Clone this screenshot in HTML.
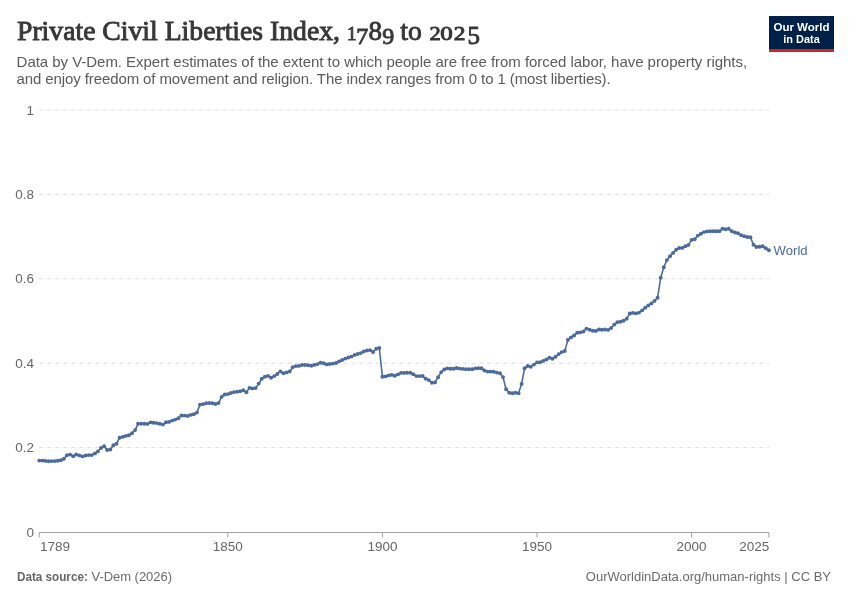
<!DOCTYPE html>
<html><head><meta charset="utf-8">
<style>
html,body{margin:0;padding:0;background:#fff;}
body{width:850px;height:600px;overflow:hidden;position:relative;}
svg{position:absolute;left:0;top:0;will-change:transform;}
text{font-family:"Liberation Sans",sans-serif;}
.ttl text{font-family:"Liberation Serif",serif;}
</style></head><body>
<svg width="850" height="600" viewBox="0 0 850 600">
<rect width="850" height="600" fill="#fff"/>
<g class="ttl" fill="#373737" stroke="#373737" stroke-width="0.9">
<text x="17" y="40.1" font-size="27" textLength="323" lengthAdjust="spacingAndGlyphs">Private Civil Liberties Index,</text>
<text x="351.7" y="40.1" font-size="19" text-anchor="middle">1</text>
<text x="362.3" y="43.6" font-size="24" text-anchor="middle">7</text>
<text x="375.3" y="40.1" font-size="27" text-anchor="middle">8</text>
<text x="388.2" y="43.6" font-size="24" text-anchor="middle">9</text>
<text x="400.3" y="40.1" font-size="27" textLength="21.5" lengthAdjust="spacingAndGlyphs">to</text>
<text transform="translate(435,40.1) scale(1.15,1)" font-size="19.5" text-anchor="middle">2</text>
<text transform="translate(446.5,40.1) scale(1.28,1)" font-size="19.5" text-anchor="middle">0</text>
<text transform="translate(459.6,40.1) scale(1.2,1)" font-size="19.5" text-anchor="middle">2</text>
<text x="473.8" y="43.6" font-size="25" text-anchor="middle">5</text>
</g>
<text x="16.6" y="66.6" font-size="15" fill="#5b5b5b" textLength="730.5" lengthAdjust="spacing">Data by V-Dem. Expert estimates of the extent to which people are free from forced labor, have property rights,</text>
<text x="16.6" y="83.9" font-size="15" fill="#5b5b5b" textLength="594" lengthAdjust="spacing">and enjoy freedom of movement and religion. The index ranges from 0 to 1 (most liberties).</text>
<rect x="769" y="16" width="65" height="36" fill="#002147"/>
<rect x="769" y="49" width="65" height="3" fill="#ce261e"/>
<text x="801.5" y="30.7" font-size="11.5" font-weight="bold" fill="#fff" text-anchor="middle">Our World</text>
<text x="783.3" y="42.8" font-size="11.5" font-weight="bold" fill="#fff" textLength="36.5" lengthAdjust="spacingAndGlyphs">in Data</text>
<g stroke="#dddddd" stroke-width="1" stroke-dasharray="4,4"><line x1="39.2" y1="110.0" x2="769" y2="110.0"/><line x1="39.2" y1="194.4" x2="769" y2="194.4"/><line x1="39.2" y1="278.8" x2="769" y2="278.8"/><line x1="39.2" y1="363.2" x2="769" y2="363.2"/><line x1="39.2" y1="447.6" x2="769" y2="447.6"/></g>
<g font-size="13.5" fill="#666" text-anchor="end"><text x="34" y="114.6">1</text><text x="34" y="199.0">0.8</text><text x="34" y="283.4">0.6</text><text x="34" y="367.8">0.4</text><text x="34" y="452.2">0.2</text><text x="34" y="536.7">0</text></g>
<line x1="39.2" y1="532.5" x2="769" y2="532.5" stroke="#a1a1a1" stroke-width="1"/>
<g stroke="#a1a1a1" stroke-width="1"><line x1="39.2" y1="532.5" x2="39.2" y2="537.5"/><line x1="227.8" y1="532.5" x2="227.8" y2="537.5"/><line x1="382.4" y1="532.5" x2="382.4" y2="537.5"/><line x1="537.0" y1="532.5" x2="537.0" y2="537.5"/><line x1="691.6" y1="532.5" x2="691.6" y2="537.5"/><line x1="768.9" y1="532.5" x2="768.9" y2="537.5"/></g>
<g font-size="13.5" fill="#666"><text x="40.1" y="550.6" text-anchor="start">1789</text><text x="227.8" y="550.6" text-anchor="middle">1850</text><text x="382.4" y="550.6" text-anchor="middle">1900</text><text x="537.0" y="550.6" text-anchor="middle">1950</text><text x="691.6" y="550.6" text-anchor="middle">2000</text><text x="769.2" y="550.6" text-anchor="end">2025</text></g>
<path d="M39.2,460.6 L42.3,460.6 L45.4,460.9 L48.5,461.2 L51.6,461.1 L54.7,461.1 L57.8,460.8 L60.8,460.3 L63.9,458.7 L67.0,455.2 L70.1,454.6 L73.2,456.2 L76.3,454.5 L79.4,455.4 L82.5,456.4 L85.6,455.5 L88.7,455.1 L91.8,455.1 L94.9,453.4 L97.9,451.4 L101.0,448.0 L104.1,446.2 L107.2,450.0 L110.3,449.5 L113.4,445.2 L116.5,443.8 L119.6,437.7 L122.7,436.9 L125.8,435.9 L128.9,435.2 L132.0,433.2 L135.1,430.1 L138.1,423.8 L141.2,423.8 L144.3,423.8 L147.4,423.9 L150.5,422.4 L153.6,422.8 L156.7,423.1 L159.8,423.8 L162.9,424.6 L166.0,422.3 L169.1,421.9 L172.2,420.6 L175.2,419.6 L178.3,418.3 L181.4,415.5 L184.5,415.6 L187.6,416.0 L190.7,414.9 L193.8,414.2 L196.9,412.6 L200.0,404.6 L203.1,404.1 L206.2,403.2 L209.3,403.0 L212.4,403.2 L215.4,404.0 L218.5,403.1 L221.6,396.9 L224.7,394.5 L227.8,394.1 L230.9,393.0 L234.0,392.1 L237.1,391.8 L240.2,391.3 L243.3,390.2 L246.4,392.3 L249.5,387.9 L252.5,388.4 L255.6,388.1 L258.7,383.6 L261.8,378.8 L264.9,376.7 L268.0,375.9 L271.1,377.8 L274.2,376.1 L277.3,374.0 L280.4,371.4 L283.5,373.2 L286.6,372.4 L289.7,371.5 L292.7,367.3 L295.8,366.1 L298.9,365.9 L302.0,365.0 L305.1,365.0 L308.2,365.3 L311.3,365.7 L314.4,364.9 L317.5,364.1 L320.6,362.8 L323.7,363.3 L326.8,364.4 L329.8,364.0 L332.9,363.6 L336.0,363.0 L339.1,361.4 L342.2,360.0 L345.3,358.6 L348.4,357.5 L351.5,356.6 L354.6,354.9 L357.7,354.0 L360.8,353.1 L363.9,351.5 L367.0,350.5 L370.0,350.1 L373.1,352.0 L376.2,348.7 L379.3,348.0 L382.4,376.7 L385.5,376.4 L388.6,375.4 L391.7,374.9 L394.8,375.7 L397.9,374.4 L401.0,372.9 L404.1,372.9 L407.1,372.8 L410.2,372.7 L413.3,374.2 L416.4,376.1 L419.5,376.1 L422.6,376.0 L425.7,378.8 L428.8,380.1 L431.9,382.7 L435.0,382.4 L438.1,377.2 L441.2,372.1 L444.3,369.5 L447.3,368.4 L450.4,368.8 L453.5,368.8 L456.6,368.0 L459.7,368.6 L462.8,368.9 L465.9,369.2 L469.0,369.2 L472.1,369.2 L475.2,368.4 L478.3,368.2 L481.4,368.2 L484.4,370.5 L487.5,371.6 L490.6,371.6 L493.7,371.8 L496.8,372.6 L499.9,373.2 L503.0,377.1 L506.1,389.3 L509.2,392.8 L512.3,393.2 L515.4,392.7 L518.5,393.2 L521.6,383.9 L524.6,368.2 L527.7,366.0 L530.8,366.7 L533.9,364.6 L537.0,362.4 L540.1,362.3 L543.2,360.9 L546.3,359.5 L549.4,357.7 L552.5,358.7 L555.6,356.7 L558.7,354.1 L561.7,352.1 L564.8,351.0 L567.9,339.9 L571.0,337.4 L574.1,335.5 L577.2,332.7 L580.3,332.4 L583.4,331.5 L586.5,328.6 L589.6,329.7 L592.7,330.7 L595.8,331.0 L598.9,329.5 L601.9,329.8 L605.0,329.5 L608.1,329.9 L611.2,328.0 L614.3,324.6 L617.4,322.1 L620.5,321.8 L623.6,320.7 L626.7,318.7 L629.8,313.5 L632.9,312.9 L636.0,313.4 L639.0,312.6 L642.1,310.4 L645.2,307.8 L648.3,305.5 L651.4,303.4 L654.5,300.9 L657.6,297.7 L660.7,277.7 L663.8,267.3 L666.9,260.1 L670.0,256.3 L673.1,252.9 L676.2,249.8 L679.2,248.0 L682.3,247.9 L685.4,246.2 L688.5,244.9 L691.6,239.9 L694.7,239.2 L697.8,235.6 L700.9,233.8 L704.0,232.1 L707.1,231.4 L710.2,231.2 L713.3,231.2 L716.3,231.2 L719.4,231.2 L722.5,228.8 L725.6,229.2 L728.7,228.8 L731.8,231.3 L734.9,232.5 L738.0,233.2 L741.1,235.3 L744.2,236.3 L747.3,237.0 L750.4,237.2 L753.5,244.8 L756.5,247.0 L759.6,246.7 L762.7,246.3 L765.8,248.3 L768.9,250.3" fill="none" stroke="#4c6a9c" stroke-width="1.6" stroke-linejoin="round"/>
<g fill="#4c6a9c"><circle cx="39.2" cy="460.6" r="1.95"/><circle cx="42.3" cy="460.6" r="1.95"/><circle cx="45.4" cy="460.9" r="1.95"/><circle cx="48.5" cy="461.2" r="1.95"/><circle cx="51.6" cy="461.1" r="1.95"/><circle cx="54.7" cy="461.1" r="1.95"/><circle cx="57.8" cy="460.8" r="1.95"/><circle cx="60.8" cy="460.3" r="1.95"/><circle cx="63.9" cy="458.7" r="1.95"/><circle cx="67.0" cy="455.2" r="1.95"/><circle cx="70.1" cy="454.6" r="1.95"/><circle cx="73.2" cy="456.2" r="1.95"/><circle cx="76.3" cy="454.5" r="1.95"/><circle cx="79.4" cy="455.4" r="1.95"/><circle cx="82.5" cy="456.4" r="1.95"/><circle cx="85.6" cy="455.5" r="1.95"/><circle cx="88.7" cy="455.1" r="1.95"/><circle cx="91.8" cy="455.1" r="1.95"/><circle cx="94.9" cy="453.4" r="1.95"/><circle cx="97.9" cy="451.4" r="1.95"/><circle cx="101.0" cy="448.0" r="1.95"/><circle cx="104.1" cy="446.2" r="1.95"/><circle cx="107.2" cy="450.0" r="1.95"/><circle cx="110.3" cy="449.5" r="1.95"/><circle cx="113.4" cy="445.2" r="1.95"/><circle cx="116.5" cy="443.8" r="1.95"/><circle cx="119.6" cy="437.7" r="1.95"/><circle cx="122.7" cy="436.9" r="1.95"/><circle cx="125.8" cy="435.9" r="1.95"/><circle cx="128.9" cy="435.2" r="1.95"/><circle cx="132.0" cy="433.2" r="1.95"/><circle cx="135.1" cy="430.1" r="1.95"/><circle cx="138.1" cy="423.8" r="1.95"/><circle cx="141.2" cy="423.8" r="1.95"/><circle cx="144.3" cy="423.8" r="1.95"/><circle cx="147.4" cy="423.9" r="1.95"/><circle cx="150.5" cy="422.4" r="1.95"/><circle cx="153.6" cy="422.8" r="1.95"/><circle cx="156.7" cy="423.1" r="1.95"/><circle cx="159.8" cy="423.8" r="1.95"/><circle cx="162.9" cy="424.6" r="1.95"/><circle cx="166.0" cy="422.3" r="1.95"/><circle cx="169.1" cy="421.9" r="1.95"/><circle cx="172.2" cy="420.6" r="1.95"/><circle cx="175.2" cy="419.6" r="1.95"/><circle cx="178.3" cy="418.3" r="1.95"/><circle cx="181.4" cy="415.5" r="1.95"/><circle cx="184.5" cy="415.6" r="1.95"/><circle cx="187.6" cy="416.0" r="1.95"/><circle cx="190.7" cy="414.9" r="1.95"/><circle cx="193.8" cy="414.2" r="1.95"/><circle cx="196.9" cy="412.6" r="1.95"/><circle cx="200.0" cy="404.6" r="1.95"/><circle cx="203.1" cy="404.1" r="1.95"/><circle cx="206.2" cy="403.2" r="1.95"/><circle cx="209.3" cy="403.0" r="1.95"/><circle cx="212.4" cy="403.2" r="1.95"/><circle cx="215.4" cy="404.0" r="1.95"/><circle cx="218.5" cy="403.1" r="1.95"/><circle cx="221.6" cy="396.9" r="1.95"/><circle cx="224.7" cy="394.5" r="1.95"/><circle cx="227.8" cy="394.1" r="1.95"/><circle cx="230.9" cy="393.0" r="1.95"/><circle cx="234.0" cy="392.1" r="1.95"/><circle cx="237.1" cy="391.8" r="1.95"/><circle cx="240.2" cy="391.3" r="1.95"/><circle cx="243.3" cy="390.2" r="1.95"/><circle cx="246.4" cy="392.3" r="1.95"/><circle cx="249.5" cy="387.9" r="1.95"/><circle cx="252.5" cy="388.4" r="1.95"/><circle cx="255.6" cy="388.1" r="1.95"/><circle cx="258.7" cy="383.6" r="1.95"/><circle cx="261.8" cy="378.8" r="1.95"/><circle cx="264.9" cy="376.7" r="1.95"/><circle cx="268.0" cy="375.9" r="1.95"/><circle cx="271.1" cy="377.8" r="1.95"/><circle cx="274.2" cy="376.1" r="1.95"/><circle cx="277.3" cy="374.0" r="1.95"/><circle cx="280.4" cy="371.4" r="1.95"/><circle cx="283.5" cy="373.2" r="1.95"/><circle cx="286.6" cy="372.4" r="1.95"/><circle cx="289.7" cy="371.5" r="1.95"/><circle cx="292.7" cy="367.3" r="1.95"/><circle cx="295.8" cy="366.1" r="1.95"/><circle cx="298.9" cy="365.9" r="1.95"/><circle cx="302.0" cy="365.0" r="1.95"/><circle cx="305.1" cy="365.0" r="1.95"/><circle cx="308.2" cy="365.3" r="1.95"/><circle cx="311.3" cy="365.7" r="1.95"/><circle cx="314.4" cy="364.9" r="1.95"/><circle cx="317.5" cy="364.1" r="1.95"/><circle cx="320.6" cy="362.8" r="1.95"/><circle cx="323.7" cy="363.3" r="1.95"/><circle cx="326.8" cy="364.4" r="1.95"/><circle cx="329.8" cy="364.0" r="1.95"/><circle cx="332.9" cy="363.6" r="1.95"/><circle cx="336.0" cy="363.0" r="1.95"/><circle cx="339.1" cy="361.4" r="1.95"/><circle cx="342.2" cy="360.0" r="1.95"/><circle cx="345.3" cy="358.6" r="1.95"/><circle cx="348.4" cy="357.5" r="1.95"/><circle cx="351.5" cy="356.6" r="1.95"/><circle cx="354.6" cy="354.9" r="1.95"/><circle cx="357.7" cy="354.0" r="1.95"/><circle cx="360.8" cy="353.1" r="1.95"/><circle cx="363.9" cy="351.5" r="1.95"/><circle cx="367.0" cy="350.5" r="1.95"/><circle cx="370.0" cy="350.1" r="1.95"/><circle cx="373.1" cy="352.0" r="1.95"/><circle cx="376.2" cy="348.7" r="1.95"/><circle cx="379.3" cy="348.0" r="1.95"/><circle cx="382.4" cy="376.7" r="1.95"/><circle cx="385.5" cy="376.4" r="1.95"/><circle cx="388.6" cy="375.4" r="1.95"/><circle cx="391.7" cy="374.9" r="1.95"/><circle cx="394.8" cy="375.7" r="1.95"/><circle cx="397.9" cy="374.4" r="1.95"/><circle cx="401.0" cy="372.9" r="1.95"/><circle cx="404.1" cy="372.9" r="1.95"/><circle cx="407.1" cy="372.8" r="1.95"/><circle cx="410.2" cy="372.7" r="1.95"/><circle cx="413.3" cy="374.2" r="1.95"/><circle cx="416.4" cy="376.1" r="1.95"/><circle cx="419.5" cy="376.1" r="1.95"/><circle cx="422.6" cy="376.0" r="1.95"/><circle cx="425.7" cy="378.8" r="1.95"/><circle cx="428.8" cy="380.1" r="1.95"/><circle cx="431.9" cy="382.7" r="1.95"/><circle cx="435.0" cy="382.4" r="1.95"/><circle cx="438.1" cy="377.2" r="1.95"/><circle cx="441.2" cy="372.1" r="1.95"/><circle cx="444.3" cy="369.5" r="1.95"/><circle cx="447.3" cy="368.4" r="1.95"/><circle cx="450.4" cy="368.8" r="1.95"/><circle cx="453.5" cy="368.8" r="1.95"/><circle cx="456.6" cy="368.0" r="1.95"/><circle cx="459.7" cy="368.6" r="1.95"/><circle cx="462.8" cy="368.9" r="1.95"/><circle cx="465.9" cy="369.2" r="1.95"/><circle cx="469.0" cy="369.2" r="1.95"/><circle cx="472.1" cy="369.2" r="1.95"/><circle cx="475.2" cy="368.4" r="1.95"/><circle cx="478.3" cy="368.2" r="1.95"/><circle cx="481.4" cy="368.2" r="1.95"/><circle cx="484.4" cy="370.5" r="1.95"/><circle cx="487.5" cy="371.6" r="1.95"/><circle cx="490.6" cy="371.6" r="1.95"/><circle cx="493.7" cy="371.8" r="1.95"/><circle cx="496.8" cy="372.6" r="1.95"/><circle cx="499.9" cy="373.2" r="1.95"/><circle cx="503.0" cy="377.1" r="1.95"/><circle cx="506.1" cy="389.3" r="1.95"/><circle cx="509.2" cy="392.8" r="1.95"/><circle cx="512.3" cy="393.2" r="1.95"/><circle cx="515.4" cy="392.7" r="1.95"/><circle cx="518.5" cy="393.2" r="1.95"/><circle cx="521.6" cy="383.9" r="1.95"/><circle cx="524.6" cy="368.2" r="1.95"/><circle cx="527.7" cy="366.0" r="1.95"/><circle cx="530.8" cy="366.7" r="1.95"/><circle cx="533.9" cy="364.6" r="1.95"/><circle cx="537.0" cy="362.4" r="1.95"/><circle cx="540.1" cy="362.3" r="1.95"/><circle cx="543.2" cy="360.9" r="1.95"/><circle cx="546.3" cy="359.5" r="1.95"/><circle cx="549.4" cy="357.7" r="1.95"/><circle cx="552.5" cy="358.7" r="1.95"/><circle cx="555.6" cy="356.7" r="1.95"/><circle cx="558.7" cy="354.1" r="1.95"/><circle cx="561.7" cy="352.1" r="1.95"/><circle cx="564.8" cy="351.0" r="1.95"/><circle cx="567.9" cy="339.9" r="1.95"/><circle cx="571.0" cy="337.4" r="1.95"/><circle cx="574.1" cy="335.5" r="1.95"/><circle cx="577.2" cy="332.7" r="1.95"/><circle cx="580.3" cy="332.4" r="1.95"/><circle cx="583.4" cy="331.5" r="1.95"/><circle cx="586.5" cy="328.6" r="1.95"/><circle cx="589.6" cy="329.7" r="1.95"/><circle cx="592.7" cy="330.7" r="1.95"/><circle cx="595.8" cy="331.0" r="1.95"/><circle cx="598.9" cy="329.5" r="1.95"/><circle cx="601.9" cy="329.8" r="1.95"/><circle cx="605.0" cy="329.5" r="1.95"/><circle cx="608.1" cy="329.9" r="1.95"/><circle cx="611.2" cy="328.0" r="1.95"/><circle cx="614.3" cy="324.6" r="1.95"/><circle cx="617.4" cy="322.1" r="1.95"/><circle cx="620.5" cy="321.8" r="1.95"/><circle cx="623.6" cy="320.7" r="1.95"/><circle cx="626.7" cy="318.7" r="1.95"/><circle cx="629.8" cy="313.5" r="1.95"/><circle cx="632.9" cy="312.9" r="1.95"/><circle cx="636.0" cy="313.4" r="1.95"/><circle cx="639.0" cy="312.6" r="1.95"/><circle cx="642.1" cy="310.4" r="1.95"/><circle cx="645.2" cy="307.8" r="1.95"/><circle cx="648.3" cy="305.5" r="1.95"/><circle cx="651.4" cy="303.4" r="1.95"/><circle cx="654.5" cy="300.9" r="1.95"/><circle cx="657.6" cy="297.7" r="1.95"/><circle cx="660.7" cy="277.7" r="1.95"/><circle cx="663.8" cy="267.3" r="1.95"/><circle cx="666.9" cy="260.1" r="1.95"/><circle cx="670.0" cy="256.3" r="1.95"/><circle cx="673.1" cy="252.9" r="1.95"/><circle cx="676.2" cy="249.8" r="1.95"/><circle cx="679.2" cy="248.0" r="1.95"/><circle cx="682.3" cy="247.9" r="1.95"/><circle cx="685.4" cy="246.2" r="1.95"/><circle cx="688.5" cy="244.9" r="1.95"/><circle cx="691.6" cy="239.9" r="1.95"/><circle cx="694.7" cy="239.2" r="1.95"/><circle cx="697.8" cy="235.6" r="1.95"/><circle cx="700.9" cy="233.8" r="1.95"/><circle cx="704.0" cy="232.1" r="1.95"/><circle cx="707.1" cy="231.4" r="1.95"/><circle cx="710.2" cy="231.2" r="1.95"/><circle cx="713.3" cy="231.2" r="1.95"/><circle cx="716.3" cy="231.2" r="1.95"/><circle cx="719.4" cy="231.2" r="1.95"/><circle cx="722.5" cy="228.8" r="1.95"/><circle cx="725.6" cy="229.2" r="1.95"/><circle cx="728.7" cy="228.8" r="1.95"/><circle cx="731.8" cy="231.3" r="1.95"/><circle cx="734.9" cy="232.5" r="1.95"/><circle cx="738.0" cy="233.2" r="1.95"/><circle cx="741.1" cy="235.3" r="1.95"/><circle cx="744.2" cy="236.3" r="1.95"/><circle cx="747.3" cy="237.0" r="1.95"/><circle cx="750.4" cy="237.2" r="1.95"/><circle cx="753.5" cy="244.8" r="1.95"/><circle cx="756.5" cy="247.0" r="1.95"/><circle cx="759.6" cy="246.7" r="1.95"/><circle cx="762.7" cy="246.3" r="1.95"/><circle cx="765.8" cy="248.3" r="1.95"/><circle cx="768.9" cy="250.3" r="2.0"/></g>
<text x="773.6" y="255.4" font-size="13" fill="#4c6a9c" textLength="34" lengthAdjust="spacingAndGlyphs">World</text>
<text x="17" y="581" font-size="13" fill="#666" font-weight="bold" textLength="70.8" lengthAdjust="spacingAndGlyphs">Data source:</text><text x="91.5" y="581" font-size="13" fill="#6b6b6b" textLength="80.5" lengthAdjust="spacing">V-Dem (2026)</text>
<text x="831" y="581.2" font-size="13" fill="#6b6b6b" text-anchor="end">OurWorldinData.org/human-rights | CC BY</text>
</svg>
</body></html>
